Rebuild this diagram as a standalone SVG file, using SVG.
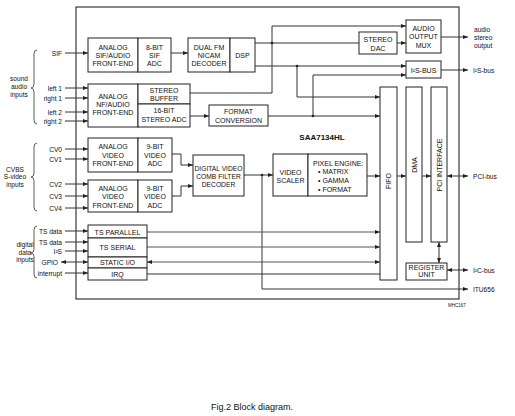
<svg xmlns="http://www.w3.org/2000/svg" width="515" height="416" viewBox="0 0 515 416">
<style>
.b{fill:#fff;stroke:#222;stroke-width:1}
.t{font-family:"Liberation Sans",Arial,sans-serif;font-size:7px;fill:#111;text-anchor:middle}
.s{font-family:"Liberation Sans",Arial,sans-serif;font-size:6.6px;fill:#111}
.e{text-anchor:end}
.l{fill:none;stroke:#333;stroke-width:1}
.g{fill:none;stroke:#555;stroke-width:1}
.br{fill:none;stroke:#333;stroke-width:0.8}
.a{marker-end:url(#ar)}
.d{marker-start:url(#ar);marker-end:url(#ar)}
</style>
<defs>
<marker id="ar" viewBox="0 0 5 4" refX="5" refY="2" markerWidth="5" markerHeight="4" orient="auto-start-reverse" markerUnits="userSpaceOnUse"><path d="M0,0 L5,2 L0,4 z" fill="#222"/></marker>
</defs>
<rect width="515" height="416" fill="#fff"/>
<g id="chip"><rect x="76" y="7" width="383" height="292" fill="none" stroke="#111" stroke-width="1"/>
<text class="t" x="322" y="140" style="font-weight:bold;font-size:8px">SAA7134HL</text></g>

<g id="connectors">
<path class="l a" d="M65,53H88"/>
<path class="l a" d="M65,88H88"/><path class="l a" d="M65,98H88"/><path class="l a" d="M65,112H88"/><path class="l a" d="M65,121H88"/>
<path class="l a" d="M171,53H188"/>
<path class="l" d="M255,43H359"/>
<path class="l a" d="M190,93H272V26H406"/>
<path class="l a" d="M397,43H406"/>
<path class="l a" d="M255,66H406"/>
<path class="l a" d="M297,66V97H380"/>
<path class="l a" d="M190,116H209"/>
<path class="l a" d="M268,116H380"/>
<path class="l a" d="M313,116V75H406"/>
<path class="l a" d="M441,37H468"/>
<path class="l a" d="M441,70H468"/>
<path class="l a" d="M65,149H88"/><path class="l a" d="M65,159H88"/><path class="l a" d="M65,184H88"/><path class="l a" d="M65,196H88"/><path class="l a" d="M65,208H88"/>
<path class="l a" d="M172,154H181V165H193"/>
<path class="l a" d="M172,196H181V186H193"/>
<path class="l a" d="M244,175H273"/>
<path class="l a" d="M262,175V289H468"/>
<path class="l a" d="M367,176H380"/>
<path class="l a" d="M397,176H406"/>
<path class="l a" d="M422,176H431"/>
<path class="l d" d="M447,176H468"/>
<path class="l d" d="M439,242V263"/>
<path class="l d" d="M447,270H468"/>
<path class="l a" d="M65,231H88"/><path class="l a" d="M65,242H88"/><path class="l a" d="M65,251H88"/>
<path class="l d" d="M61,262H88"/>
<path class="l a" d="M65,273H88"/>
<path class="g a" d="M147,232H380"/>
<path class="g a" d="M147,247H380"/>
<path class="g d" d="M147,262H380"/>
<path class="l" d="M147,274H380"/>
<g fill="#222"><circle cx="272" cy="43" r="1.3"/><circle cx="297" cy="66" r="1.3"/><circle cx="313" cy="116" r="1.3"/><circle cx="262" cy="175" r="1.3"/></g>
</g>

<g id="sif-fe"><rect class="b" x="88" y="38" width="50" height="34"/><text class="t" x="113" y="49.5">ANALOG</text><text class="t" x="113" y="57.5">SIF/AUDIO</text><text class="t" x="113" y="65.5">FRONT-END</text></g>
<g id="sif-adc"><rect class="b" x="138" y="38" width="33" height="34"/><text class="t" x="154.5" y="49.5">8-BIT</text><text class="t" x="154.5" y="57.5">SIF</text><text class="t" x="154.5" y="65.5">ADC</text></g>
<g id="decoder"><rect class="b" x="188" y="38" width="42" height="34"/><text class="t" x="209" y="49.5">DUAL FM</text><text class="t" x="209" y="57.5">NICAM</text><text class="t" x="209" y="65.5">DECODER</text></g>
<g id="dsp"><rect class="b" x="230" y="38" width="25" height="34"/><text class="t" x="242.5" y="57.5">DSP</text></g>
<g id="nf-fe"><rect class="b" x="88" y="84" width="50" height="43"/><text class="t" x="113" y="99">ANALOG</text><text class="t" x="113" y="107">NF/AUDIO</text><text class="t" x="113" y="115">FRONT-END</text></g>
<g id="stereo-buffer"><rect class="b" x="138" y="84" width="52" height="20"/><text class="t" x="164" y="92.5">STEREO</text><text class="t" x="164" y="101">BUFFER</text></g>
<g id="stereo-adc"><rect class="b" x="138" y="104" width="52" height="23"/><text class="t" x="164" y="112.5">16-BIT</text><text class="t" x="164" y="121.5">STEREO ADC</text></g>
<g id="format-conv"><rect class="b" x="209" y="105" width="59" height="21"/><text class="t" x="238.5" y="113.5">FORMAT</text><text class="t" x="238.5" y="122.5">CONVERSION</text></g>
<g id="stereo-dac"><rect class="b" x="359" y="32" width="38" height="22"/><text class="t" x="378" y="41.5">STEREO</text><text class="t" x="378" y="50.5">DAC</text></g>
<g id="audio-mux"><rect class="b" x="406" y="20" width="35" height="33"/><text class="t" x="423.5" y="30.5">AUDIO</text><text class="t" x="423.5" y="39">OUTPUT</text><text class="t" x="423.5" y="47.5">MUX</text></g>
<g id="i2s-bus"><rect class="b" x="406" y="61" width="35" height="17"/><text class="t" x="423.5" y="72.5">I²S-BUS</text></g>
<g id="vfe1"><rect class="b" x="88" y="138" width="50" height="34"/><text class="t" x="113" y="148.5">ANALOG</text><text class="t" x="113" y="157.5">VIDEO</text><text class="t" x="113" y="165.5">FRONT-END</text></g>
<g id="vadc1"><rect class="b" x="138" y="138" width="34" height="34"/><text class="t" x="155" y="148.5">9-BIT</text><text class="t" x="155" y="157.5">VIDEO</text><text class="t" x="155" y="165.5">ADC</text></g>
<g id="vfe2"><rect class="b" x="88" y="180" width="50" height="32"/><text class="t" x="113" y="190.5">ANALOG</text><text class="t" x="113" y="199">VIDEO</text><text class="t" x="113" y="207.5">FRONT-END</text></g>
<g id="vadc2"><rect class="b" x="138" y="180" width="34" height="32"/><text class="t" x="155" y="190.5">9-BIT</text><text class="t" x="155" y="199">VIDEO</text><text class="t" x="155" y="207.5">ADC</text></g>
<g id="comb"><rect class="b" x="193" y="155" width="51" height="41"/><text class="t" x="218.5" y="170.5" style="font-size:6.7px">DIGITAL VIDEO</text><text class="t" x="218.5" y="179" style="font-size:6.7px">COMB FILTER</text><text class="t" x="218.5" y="187" style="font-size:6.7px">DECODER</text></g>
<g id="scaler"><rect class="b" x="273" y="154" width="35" height="42"/><text class="t" x="290.5" y="174.5">VIDEO</text><text class="t" x="290.5" y="183">SCALER</text></g>
<g id="pixel"><rect class="b" x="308" y="154" width="59" height="42"/><text class="s" x="313" y="165.5" style="font-size:7px">PIXEL ENGINE:</text><text class="s" x="318" y="174" style="font-size:7px">• MATRIX</text><text class="s" x="318" y="183" style="font-size:7px">• GAMMA</text><text class="s" x="318" y="191.5" style="font-size:7px">• FORMAT</text></g>
<g id="fifo"><rect class="b" x="380" y="87" width="17" height="193"/><text class="t" transform="translate(391,181) rotate(-90)">FIFO</text></g>
<g id="dma"><rect class="b" x="406" y="87" width="16" height="155"/><text class="t" transform="translate(416.5,165) rotate(-90)">DMA</text></g>
<g id="pci"><rect class="b" x="431" y="87" width="16" height="155"/><text class="t" transform="translate(441.5,165) rotate(-90)">PCI INTERFACE</text></g>
<g id="register"><rect class="b" x="406" y="263" width="41" height="17"/><text class="t" x="426.5" y="269.5">REGISTER</text><text class="t" x="426.5" y="277">UNIT</text></g>
<g id="ts-par"><rect class="b" x="88" y="225" width="59" height="13"/><text class="t" x="117.5" y="234.5">TS PARALLEL</text></g>
<g id="ts-ser"><rect class="b" x="88" y="238" width="59" height="19"/><text class="t" x="117.5" y="250">TS SERIAL</text></g>
<g id="static-io"><rect class="b" x="88" y="257" width="59" height="11"/><text class="t" x="117.5" y="265">STATIC I/O</text></g>
<g id="irq"><rect class="b" x="88" y="268" width="59" height="12"/><text class="t" x="117.5" y="276.5">IRQ</text></g>

<g id="labels">
<text class="s e" x="62" y="55.5">SIF</text>
<text class="s e" x="62" y="90.5">left 1</text><text class="s e" x="62" y="100.5">right 1</text><text class="s e" x="62" y="114.5">left 2</text><text class="s e" x="62" y="123.5">right 2</text>
<text class="s e" x="62" y="151.5">CV0</text><text class="s e" x="62" y="161.5">CV1</text><text class="s e" x="62" y="186.5">CV2</text><text class="s e" x="62" y="198.5">CV3</text><text class="s e" x="62" y="210.5">CV4</text>
<text class="s e" x="62" y="233.5">TS data</text><text class="s e" x="62" y="244.5">TS data</text><text class="s e" x="62" y="253.5">I²S</text><text class="s e" x="58" y="264.5">GPIO</text><text class="s e" x="62" y="275.5">interrupt</text>
<g class="s" style="text-anchor:middle"><text x="19" y="81">sound</text><text x="19" y="89">audio</text><text x="19" y="97">inputs</text>
<text x="15" y="171.5">CVBS</text><text x="15" y="179">S-video</text><text x="15" y="186.5">inputs</text>
<text x="25" y="247">digital</text><text x="25" y="254.5">data</text><text x="25" y="262">inputs</text></g>
<path class="br" d="M37,50Q34,50 34,54V84Q34,88 31,88Q34,88 34,92V120Q34,124 37,124"/>
<path class="br" d="M37,143Q34,143 34,147V173Q34,177 31,177Q34,177 34,181V207Q34,211 37,211"/>
<path class="br" d="M37,226Q34,226 34,230V249Q34,253 31,253Q34,253 34,257V274Q34,278 37,278"/>
<text class="s" x="474" y="32">audio</text><text class="s" x="474" y="40">stereo</text><text class="s" x="474" y="47.5">output</text>
<text class="s" x="473" y="72.5">I²S-bus</text>
<text class="s" x="473" y="178.5">PCI-bus</text>
<text class="s" x="473" y="272.5">I²C-bus</text>
<text class="s" x="473" y="291.5">ITU656</text>
<text class="s" x="448" y="307" style="font-size:4.5px">MHC167</text>
<text class="t" x="252" y="410" style="font-size:9px">Fig.2  Block diagram.</text>
</g>
</svg>
